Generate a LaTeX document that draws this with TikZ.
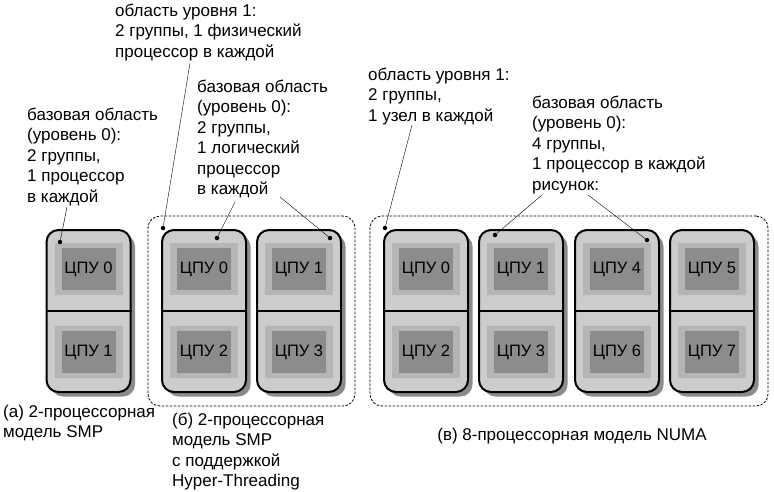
\documentclass[tikz,border=0pt]{standalone}
\usepackage{fontspec}
\setmainfont{Liberation Sans}
\usetikzlibrary{shadows,fit}

\tikzset{
  cpucard/.style={draw=black, line width=2pt, rounded corners=12pt, fill=black!20,
    minimum width=84pt, minimum height=162pt, inner sep=0pt,
    drop shadow={shadow xshift=4.5pt, shadow yshift=-4.5pt, fill=black!75, opacity=.6}},
  pinrow/.style={fill=black!29, minimum width=68pt, minimum height=52pt, inner sep=0pt},
  chip/.style={fill=black!45, minimum width=54pt, minimum height=42pt, inner sep=0pt,
    font=\fontsize{16.5}{18}\selectfont},
  grpbox/.style={draw=black, dash pattern=on 2.5pt off 1.5pt, line width=0.8pt,
    rounded corners=12pt, inner sep=13pt},
  dotmark/.style={circle, fill=black, inner sep=0pt, minimum size=4.5pt},
  note/.style={align=left, inner sep=0pt, anchor=north west, font=\fontsize{17}{20.5}\selectfont},
  lead/.style={thin, black}
}

\begin{document}
\begin{tikzpicture}[x=1pt, y=-1pt]
	\useasboundingbox (0,0) rectangle (774,491);
	% processor cards
	\foreach \nm/\cx/\up/\dn in {a/88.5/0/1, bA/204/0/2, bB/299/1/3,
	    cA/426/0/2, cB/521/1/3, cC/617/4/6, cD/712/5/7} {
	  \node[cpucard] (card\nm) at (\cx,311) {};
	  \draw[line width=2pt] (card\nm.west) -- (card\nm.east);
	  \node[pinrow] at (\cx,269) {};
	  \node[chip] (cpu\nm\up) at (\cx,269) {ЦПУ \up};
	  \node[pinrow] at (\cx,352) {};
	  \node[chip] (cpu\nm\dn) at (\cx,352) {ЦПУ \dn};
	}
	% group boxes
	\node[grpbox, fit=(cardbA)(cardbB)] (grpB) {};
	\node[grpbox, fit=(cardcA)(cardcD)] (grpC) {};
	% texts
	\node[note] (txtA) at (27,107.5) {базовая область\\(уровень 0):\\2 группы,\\1 процессор\\в каждой};
	\node[note] (txtBone) at (115,3.5) {область уровня 1:\\2 группы, 1 физический\\процессор в каждой};
	\node[note] (txtBzero) at (197,79.5) {базовая область\\(уровень 0):\\2 группы,\\1 логический\\процессор\\в каждой};
	\node[note] (txtCone) at (368,67.5) {область уровня 1:\\2 группы,\\1 узел в каждой};
	\node[note] (txtCzero) at (532,95.5) {базовая область\\(уровень 0):\\4 группы,\\1 процессор в каждой\\рисунок:};
	\node[note] (capA) at (3,404.5) {(а) 2-процессорная\\модель SMP};
	\node[note] (capB) at (172,412.5) {(б) 2-процессорная\\модель SMP\\с поддержкой\\Hyper-Threading};
	\node[note, anchor=north] (capC) at (572,428) {(в) 8-процессорная модель NUMA};
	% dots
	\node[dotmark] (dA) at (60,242) {};
	\node[dotmark] (dB) at (163,228) {};
	\node[dotmark] (dBA) at (217,238) {};
	\node[dotmark] (dBB) at (330,238) {};
	\node[dotmark] (dC) at (385,228) {};
	\node[dotmark] (dCB) at (495,235) {};
	\node[dotmark] (dCC) at (647,240) {};
	% leader lines
	\coordinate (lA) at (67,207);
	\coordinate (lB) at (190,63);
	\coordinate (lBA) at (235,202);
	\coordinate (lBB) at (280,197);
	\coordinate (lC) at (412,125);
	\coordinate (lCB) at (542,195);
	\coordinate (lCC) at (588,195);
	\draw[lead] (lA) -- (dA);
	\draw[lead] (lB) -- (dB);
	\draw[lead] (lBA) -- (dBA);
	\draw[lead] (lBB) -- (dBB);
	\draw[lead] (lC) -- (dC);
	\draw[lead] (lCB) -- (dCB);
	\draw[lead] (lCC) -- (dCC);
\end{tikzpicture}
\end{document}
